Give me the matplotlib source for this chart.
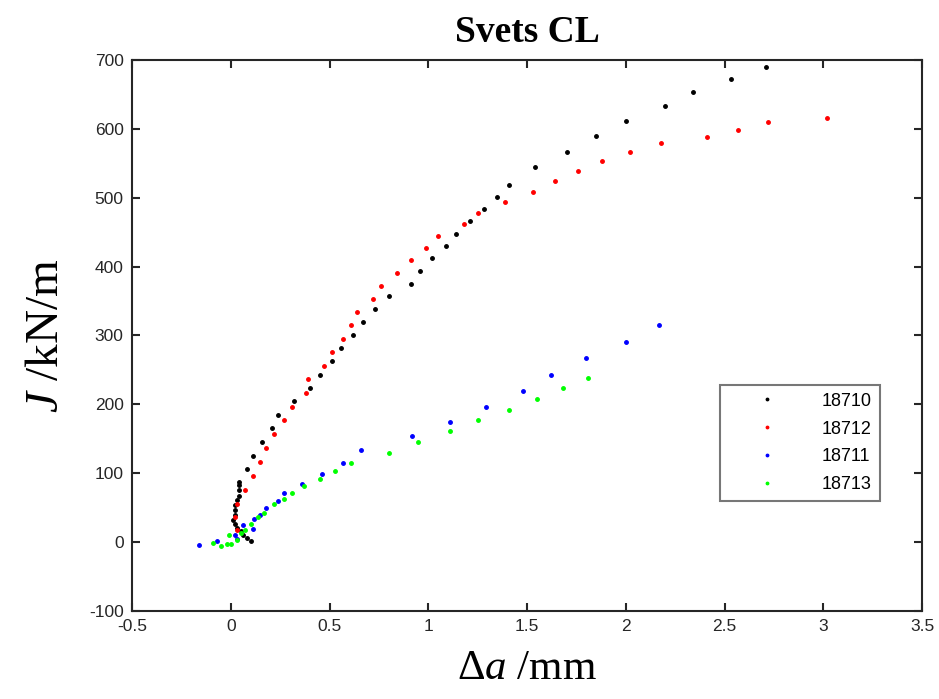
import matplotlib
matplotlib.use("Agg")
import matplotlib.pyplot as plt

plt.rcParams["axes.unicode_minus"] = False
plt.rcParams["mathtext.fontset"] = "custom"
plt.rcParams["mathtext.rm"] = "Liberation Serif"
plt.rcParams["mathtext.it"] = "Liberation Serif:italic"

# 18710 (black)
x_18710 = [0.10, 0.08, 0.06, 0.05, 0.03, 0.02, 0.01, 0.02, 0.02, 0.02, 0.03, 0.04, 0.04, 0.04,
           0.04, 0.08, 0.11, 0.16, 0.21, 0.24, 0.32, 0.40, 0.45, 0.51, 0.56, 0.62, 0.67, 0.73,
           0.80, 0.91, 0.96, 1.02, 1.09, 1.14, 1.21, 1.28, 1.35, 1.41, 1.54, 1.70, 1.85, 2.00,
           2.20, 2.34, 2.53, 2.71]
y_18710 = [2, 6, 11, 16, 21, 27, 32, 39, 46, 54, 61, 67, 75, 83,
           87, 106, 125, 146, 166, 185, 205, 224, 243, 263, 282, 301, 320, 339,
           357, 375, 394, 412, 430, 448, 466, 484, 501, 519, 545, 567, 590, 612,
           633, 653, 672, 690]

# 18712 (red)
x_18712 = [0.03, 0.02, 0.03, 0.07, 0.11, 0.15, 0.18, 0.22, 0.27, 0.31, 0.38, 0.39, 0.47, 0.51,
           0.57, 0.61, 0.64, 0.72, 0.76, 0.84, 0.91, 0.99, 1.05, 1.18, 1.25, 1.39, 1.53, 1.64,
           1.76, 1.88, 2.02, 2.18, 2.41, 2.57, 2.72, 3.02]
y_18712 = [17, 36, 56, 76, 96, 116, 137, 157, 177, 196, 216, 237, 256, 276,
           295, 315, 334, 353, 372, 391, 409, 427, 445, 462, 478, 494, 509, 524,
           539, 553, 567, 580, 588, 599, 610, 616]

# 18711 (blue)
x_18711 = [-0.16, -0.07, 0.03, 0.02, 0.11, 0.06, 0.12, 0.15, 0.18, 0.24, 0.27, 0.36, 0.46, 0.57,
           0.66, 0.92, 1.11, 1.29, 1.48, 1.62, 1.80, 2.00, 2.17]
y_18711 = [-4, 1, 4, 10, 19, 25, 33, 40, 49, 60, 71, 84, 99, 115,
           134, 154, 175, 196, 220, 243, 267, 290, 315]

# 18713 (green)
x_18713 = [-0.09, -0.05, -0.02, 0.00, -0.01, 0.03, 0.05, 0.07, 0.10, 0.14, 0.17, 0.22, 0.27, 0.31,
           0.37, 0.45, 0.53, 0.61, 0.80, 0.95, 1.11, 1.25, 1.41, 1.55, 1.68, 1.81]
y_18713 = [-2, -6, -3, -3, 10, 3, 13, 17, 27, 37, 43, 56, 63, 72,
           81, 91, 103, 115, 130, 145, 161, 177, 192, 208, 224, 239]

series = [
    ("18710", x_18710, y_18710, "black"),
    ("18712", x_18712, y_18712, "red"),
    ("18711", x_18711, y_18711, "blue"),
    ("18713", x_18713, y_18713, "lime"),
]

x_ticks = [-0.5, 0, 0.5, 1, 1.5, 2, 2.5, 3, 3.5]
x_ticklabels = ["-0.5", "0", "0.5", "1", "1.5", "2", "2.5", "3", "3.5"]
y_ticks = [-100, 0, 100, 200, 300, 400, 500, 600, 700]

fig = plt.figure(figsize=(9.39, 6.99), dpi=100)
ax = fig.add_axes([0.1406, 0.1259, 0.8414, 0.7883])

for name, xs, ys, col in series:
    ax.plot(xs, ys, linestyle="none", marker=".", markersize=5, color=col, label=name)

ax.set_xlim(-0.5, 3.5)
ax.set_ylim(-100, 700)
ax.set_xticks(x_ticks)
ax.set_xticklabels(x_ticklabels)
ax.set_yticks(y_ticks)
ax.tick_params(direction="in", top=True, right=True, length=6, width=1.5,
               labelsize=12.5, colors="#262626", pad=6)
for lab in ax.get_xticklabels() + ax.get_yticklabels():
    lab.set_family("Liberation Sans")
for sp in ax.spines.values():
    sp.set_linewidth(1.5)
    sp.set_color("#262626")

ax.set_title("Svets CL", fontsize=27, fontweight="bold", family="Liberation Serif", pad=13)
ax.set_xlabel(r"$\mathrm{\Delta}\mathit{a}$ /mm", fontsize=31, family="Liberation Serif", labelpad=11)
ax.set_ylabel(r"$\mathit{J}$ /kN/m", fontsize=34, family="Liberation Serif", labelpad=15)

leg = ax.legend(loc="center", bbox_to_anchor=(0.845, 0.305),
                markerscale=0.7, handlelength=4.4, handletextpad=0.8, borderpad=0.45,
                labelspacing=0.6, frameon=True, fancybox=False, borderaxespad=0,
                prop={"family": "Liberation Sans", "size": 13})
leg.get_frame().set_edgecolor("#555555")
leg.get_frame().set_linewidth(1.5)

fig.savefig("out.png", dpi=100)
